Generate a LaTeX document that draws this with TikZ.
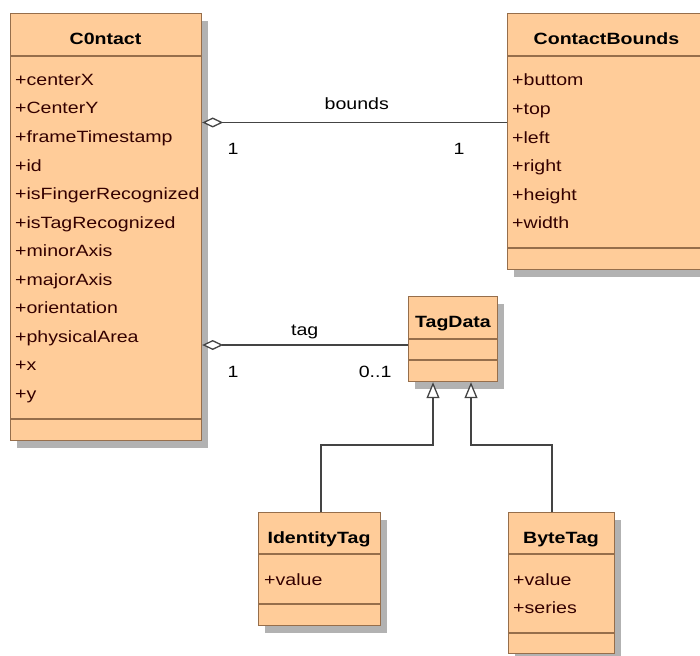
\documentclass[tikz,border=0pt]{standalone}
\usepackage{fontspec}
\setmainfont[FakeStretch=1.2]{Liberation Sans}
\usetikzlibrary{arrows.meta,shadows,calc}

\definecolor{classfill}{RGB}{255,204,153}
\definecolor{classline}{RGB}{150,110,75}
\definecolor{shadowgray}{RGB}{178,178,178}
\definecolor{attrtext}{RGB}{51,0,0}
\definecolor{wire}{RGB}{68,68,68}

\tikzset{
  umlfont/.style={font=\fontsize{16.3}{19}\selectfont},
  classbox/.style={rectangle, draw=classline, fill=classfill, line width=1.2pt,
    inner sep=0pt, anchor=north west,
    drop shadow={shadow xshift=6pt, shadow yshift=-7pt, fill=shadowgray, opacity=1}},
  compsep/.style={draw=classline, line width=1.2pt},
  classname/.style={umlfont, inner sep=0pt, anchor=base, font=\fontsize{16.3}{19}\selectfont\bfseries},
  attr/.style={umlfont, inner sep=0pt, anchor=base west, text=attrtext},
  lbl/.style={umlfont, inner sep=0pt, anchor=base, text=black},
  assoc/.style={draw=wire, line width=1.3pt,
    {Diamond[length=21pt, width=10pt, fill=white, line width=1.3pt]}-},
  gen/.style={draw=wire, line width=1.3pt,
    -{Triangle[length=16pt, width=13pt, fill=white, line width=1.3pt]}},
}

\begin{document}
\begin{tikzpicture}[x=1pt, y=-1pt]
  \useasboundingbox (0,0) rectangle (700,655);
  \clip (0,0) rectangle (700,655);

  % ---- C0ntact ----
  \node[classbox, minimum width=191pt, minimum height=427pt] (contact) at (10,13) {};
  \draw[compsep] (contact.west |- 0,56) -- (contact.east |- 0,56);
  \draw[compsep] (contact.west |- 0,419) -- (contact.east |- 0,419);
  \node[classname] (contactname) at (105.5,45) {C0ntact};
  \foreach \t [count=\i from 0] in {centerX,CenterY,frameTimestamp,id,isFingerRecognized,
      isTagRecognized,minorAxis,majorAxis,orientation,physicalArea,x,y}
    \node[attr] (ca\i) at (15,{85.5+28.5*\i}) {+\t};

  % ---- ContactBounds ----
  \node[classbox, minimum width=199pt, minimum height=256pt] (cbounds) at (507,13) {};
  \draw[compsep] (cbounds.west |- 0,56) -- (cbounds.east |- 0,56);
  \draw[compsep] (cbounds.west |- 0,248) -- (cbounds.east |- 0,248);
  \node[classname] (cboundsname) at (606.5,45) {ContactBounds};
  \foreach \t [count=\i from 0] in {buttom,top,left,right,height,width}
    \node[attr] (cb\i) at (512,{86+28.5*\i}) {+\t};

  % ---- TagData ----
  \node[classbox, minimum width=89pt, minimum height=85pt] (tagdata) at (408,296) {};
  \draw[compsep] (tagdata.west |- 0,339) -- (tagdata.east |- 0,339);
  \draw[compsep] (tagdata.west |- 0,360) -- (tagdata.east |- 0,360);
  \node[classname] (tagdataname) at (453,327) {TagData};

  % ---- IdentityTag ----
  \node[classbox, minimum width=122pt, minimum height=113pt] (idtag) at (258,512) {};
  \draw[compsep] (idtag.west |- 0,554) -- (idtag.east |- 0,554);
  \draw[compsep] (idtag.west |- 0,604) -- (idtag.east |- 0,604);
  \node[classname] (idtagname) at (319,543.5) {IdentityTag};
  \node[attr] (it0) at (264,585) {+value};

  % ---- ByteTag ----
  \node[classbox, minimum width=106pt, minimum height=141pt] (btag) at (508,512) {};
  \draw[compsep] (btag.west |- 0,554) -- (btag.east |- 0,554);
  \draw[compsep] (btag.west |- 0,633) -- (btag.east |- 0,633);
  \node[classname] (btagname) at (561,543.5) {ByteTag};
  \node[attr] (bt0) at (513,585) {+value};
  \node[attr] (bt1) at (513,613.5) {+series};

  % ---- associations ----
  \draw[assoc] (contact.east |- 0,122.5) -- (cbounds.west |- 0,122.5)
    node[lbl, pos=0.507, yshift=12.5pt] (lbounds) {bounds}
    node[lbl, pos=0.101, yshift=-31.5pt] (lb1) {1}
    node[lbl, pos=0.843, yshift=-31.5pt] (lb2) {1};
  \draw[assoc] (contact.east |- 0,345) -- (tagdata.west |- 0,345)
    node[lbl, pos=0.498, yshift=10pt] (ltag) {tag}
    node[lbl, pos=0.150, yshift=-32pt] (lt1) {1}
    node[lbl, pos=0.840, yshift=-32pt] (lt2) {0..1};

  % ---- generalizations ----
  \draw[gen] (idtag.north -| 321,0) |- (433,445) -- (tagdata.south -| 433,0);
  \draw[gen] (btag.north -| 552,0) |- (471,445) -- (tagdata.south -| 471,0);
\end{tikzpicture}
\end{document}
